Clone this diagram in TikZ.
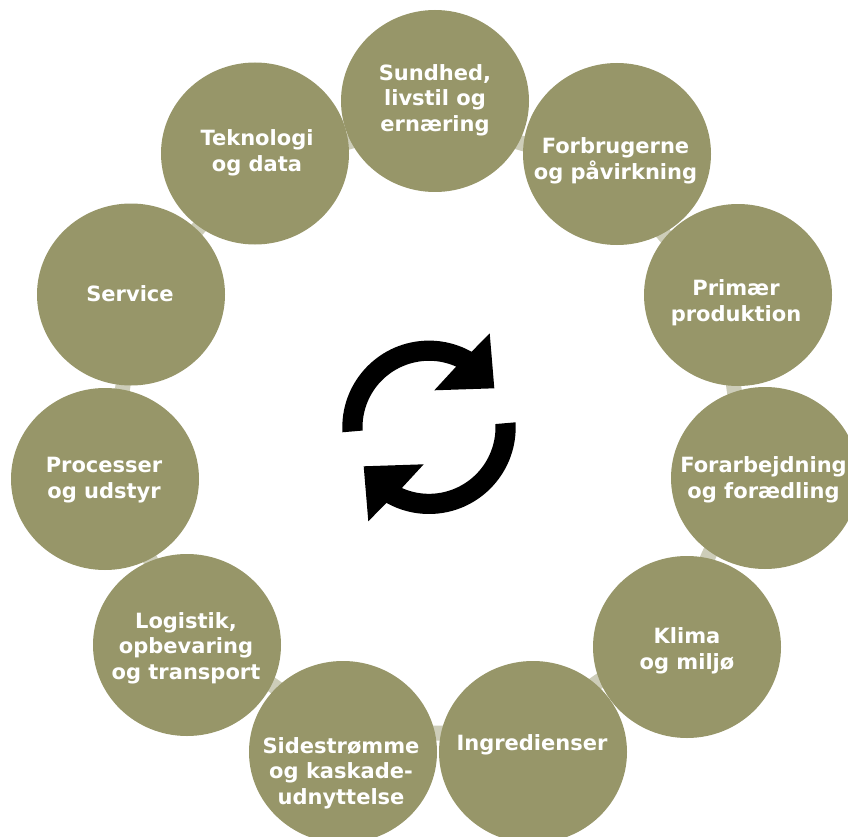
\documentclass[tikz,border=0pt]{standalone}
\usepackage{fontspec}
\setmainfont{DejaVu Sans}
\usetikzlibrary{backgrounds,shapes.geometric}
\definecolor{olive}{HTML}{979669}
\definecolor{lightolive}{HTML}{CDCDB9}
\tikzset{
  bub/.style={ellipse,fill=olive,draw=none,minimum width=188pt,minimum height=182pt,inner sep=0pt},
  txt/.style={text=white,font=\fontsize{21}{25.7}\selectfont\bfseries,align=center,inner sep=0pt},
  ringlink/.style={draw=lightolive,line width=15pt},
  loopglyph/.style={fill=black,draw=none}
}
\begin{document}
\begin{tikzpicture}[x=1pt,y=1pt]
\useasboundingbox (0,0) rectangle (848,-837);
\clip (0,0) rectangle (848,-837);
\node[bub] (a) at (435,-101) {};
\node[bub] (b) at (617,-154) {};
\node[bub] (c) at (738,-295) {};
\node[bub] (d) at (765,-478) {};
\node[bub] (e) at (687,-647) {};
\node[bub] (f) at (533,-752) {};
\node[bub] (g) at (343,-752) {};
\node[bub] (h) at (187,-645) {};
\node[bub] (i) at (105,-479) {};
\node[bub] (j) at (131,-294.5) {};
\node[bub] (k) at (255,-153.5) {};
\begin{scope}[on background layer]
\foreach \p/\q/\b in {a/b/17,b/c/18,c/d/19,d/e/20,e/f/23,f/g/20,g/h/16,h/i/5,i/j/5,j/k/7,k/a/16}
  \draw[ringlink] (\p.center) to[bend right=\b] (\q.center);
\end{scope}
\node[txt] (ta) at (435,-100) {Sundhed,\\livstil og\\ernæring};
\node[txt] (tb) at (615.5,-161) {Forbrugerne\\og påvirkning};
\node[txt] (tc) at (736,-303) {Primær\\produktion};
\node[txt] (td) at (763.5,-480) {Forarbejdning\\og forædling};
\node[txt] (te) at (687,-651) {Klima\\og miljø};
\node[txt] (tf) at (532,-745) {Ingredienser};
\node[txt] (tg) at (341,-773) {Sidestrømme\\og kaskade-\\udnyttelse};
\node[txt] (th) at (186,-648) {Logistik,\\opbevaring\\og transport};
\node[txt] (ti) at (104,-480) {Processer\\og udstyr};
\node[txt] (tj) at (130,-294) {Service};
\node[txt] (tk) at (257,-153) {Teknologi\\og data};
\foreach \r in {0,180}{
\begin{scope}[shift={(429,-427.3)},rotate=\r]
\fill[loopglyph] (183.3:86.7) arc[start angle=183.3,end angle=60.6,radius=86.7]
  -- (60.7,94) -- (65.3,39) -- (5.3,37) -- (65.9:66.5)
  arc[start angle=65.9,end angle=182.8,radius=66.5] -- cycle;
\end{scope}}
\end{tikzpicture}
\end{document}
